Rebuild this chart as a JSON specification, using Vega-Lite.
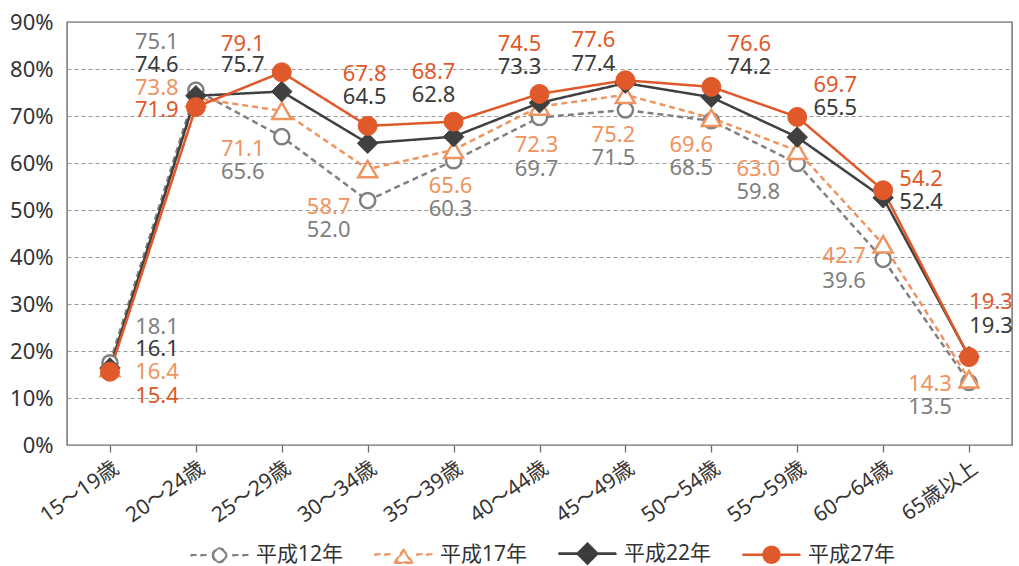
{
  "$schema": "https://vega.github.io/schema/vega-lite/v6.json",
  "autosize": {"type": "none"},
  "width": 945,
  "height": 423,
  "padding": {"left": 67, "top": 22, "right": 7, "bottom": 121},
  "background": "#ffffff",
  "config": {
    "font": "Noto Sans, Noto Sans CJK JP",
    "view": {"stroke": "#6b6b6b", "strokeWidth": 1.4},
    "axis": {"labelFont": "Noto Sans, Noto Sans CJK JP", "labelColor": "#333333"},
    "legend": {"labelFont": "Noto Sans, Noto Sans CJK JP"}
  },
  "data": {
    "values": [
      {"c": "15～19歳", "s": "平成12年", "v": 17.5, "t": "18.1", "ly": 25.2, "side": "e2"},
      {"c": "15～19歳", "s": "平成17年", "v": 16.4, "t": "16.4", "ly": 15.5, "side": "e2"},
      {"c": "15～19歳", "s": "平成22年", "v": 16.4, "t": "16.1", "ly": 20.5, "side": "e2"},
      {"c": "15～19歳", "s": "平成27年", "v": 15.6, "t": "15.4", "ly": 10.5, "side": "e2"},
      {"c": "20～24歳", "s": "平成12年", "v": 75.5, "t": "75.1", "ly": 85.7, "side": "w"},
      {"c": "20～24歳", "s": "平成17年", "v": 73.8, "t": "73.8", "ly": 76.0, "side": "w"},
      {"c": "20～24歳", "s": "平成22年", "v": 74.3, "t": "74.6", "ly": 80.8, "side": "w"},
      {"c": "20～24歳", "s": "平成27年", "v": 71.9, "t": "71.9", "ly": 71.2, "side": "w"},
      {"c": "25～29歳", "s": "平成12年", "v": 65.6, "t": "65.6", "ly": 58.1, "side": "w"},
      {"c": "25～29歳", "s": "平成17年", "v": 71.1, "t": "71.1", "ly": 63.0, "side": "w"},
      {"c": "25～29歳", "s": "平成22年", "v": 75.2, "t": "75.7", "ly": 80.8, "side": "w"},
      {"c": "25～29歳", "s": "平成27年", "v": 79.3, "t": "79.1", "ly": 85.4, "side": "w"},
      {"c": "30～34歳", "s": "平成12年", "v": 52.0, "t": "52.0", "ly": 45.7, "side": "w"},
      {"c": "30～34歳", "s": "平成17年", "v": 58.7, "t": "58.7", "ly": 50.6, "side": "w"},
      {"c": "30～34歳", "s": "平成22年", "v": 64.2, "t": "64.5", "ly": 74.0, "side": "n"},
      {"c": "30～34歳", "s": "平成27年", "v": 67.9, "t": "67.8", "ly": 79.0, "side": "n"},
      {"c": "35～39歳", "s": "平成12年", "v": 60.5, "t": "60.3", "ly": 50.3, "side": "n"},
      {"c": "35～39歳", "s": "平成17年", "v": 62.8, "t": "65.6", "ly": 55.2, "side": "n"},
      {"c": "35～39歳", "s": "平成22年", "v": 65.6, "t": "62.8", "ly": 74.4, "side": "nw"},
      {"c": "35～39歳", "s": "平成27年", "v": 68.8, "t": "68.7", "ly": 79.4, "side": "nw"},
      {"c": "40～44歳", "s": "平成12年", "v": 69.7, "t": "69.7", "ly": 58.8, "side": "n"},
      {"c": "40～44歳", "s": "平成17年", "v": 72.0, "t": "72.3", "ly": 63.8, "side": "n"},
      {"c": "40～44歳", "s": "平成22年", "v": 72.8, "t": "73.3", "ly": 80.4, "side": "nw"},
      {"c": "40～44歳", "s": "平成27年", "v": 74.7, "t": "74.5", "ly": 85.4, "side": "nw"},
      {"c": "45～49歳", "s": "平成12年", "v": 71.3, "t": "71.5", "ly": 61.1, "side": "n2"},
      {"c": "45～49歳", "s": "平成17年", "v": 74.5, "t": "75.2", "ly": 65.9, "side": "n2"},
      {"c": "45～49歳", "s": "平成22年", "v": 77.0, "t": "77.4", "ly": 81.1, "side": "nw2"},
      {"c": "45～49歳", "s": "平成27年", "v": 77.6, "t": "77.6", "ly": 86.2, "side": "nw2"},
      {"c": "50～54歳", "s": "平成12年", "v": 69.0, "t": "68.5", "ly": 59.0, "side": "nw"},
      {"c": "50～54歳", "s": "平成17年", "v": 69.6, "t": "69.6", "ly": 63.8, "side": "nw"},
      {"c": "50～54歳", "s": "平成22年", "v": 74.0, "t": "74.2", "ly": 80.4, "side": "e"},
      {"c": "50～54歳", "s": "平成27年", "v": 76.2, "t": "76.6", "ly": 85.4, "side": "e"},
      {"c": "55～59歳", "s": "平成12年", "v": 59.9, "t": "59.8", "ly": 53.8, "side": "w"},
      {"c": "55～59歳", "s": "平成17年", "v": 62.6, "t": "63.0", "ly": 58.8, "side": "w"},
      {"c": "55～59歳", "s": "平成22年", "v": 65.5, "t": "65.5", "ly": 71.6, "side": "e"},
      {"c": "55～59歳", "s": "平成27年", "v": 69.8, "t": "69.7", "ly": 76.5, "side": "e"},
      {"c": "60～64歳", "s": "平成12年", "v": 39.5, "t": "39.6", "ly": 35.0, "side": "w"},
      {"c": "60～64歳", "s": "平成17年", "v": 42.7, "t": "42.7", "ly": 40.3, "side": "w"},
      {"c": "60～64歳", "s": "平成22年", "v": 52.6, "t": "52.4", "ly": 51.7, "side": "e"},
      {"c": "60～64歳", "s": "平成27年", "v": 54.2, "t": "54.2", "ly": 56.7, "side": "e"},
      {"c": "65歳以上", "s": "平成12年", "v": 13.3, "t": "13.5", "ly": 8.0, "side": "w"},
      {"c": "65歳以上", "s": "平成17年", "v": 14.0, "t": "14.3", "ly": 13.0, "side": "w"},
      {"c": "65歳以上", "s": "平成22年", "v": 18.8, "t": "19.3", "ly": 25.4, "side": "e3"},
      {"c": "65歳以上", "s": "平成27年", "v": 18.7, "t": "19.3", "ly": 30.4, "side": "e3"}
    ]
  },
  "encoding": {
    "x": {
      "field": "c",
      "type": "ordinal",
      "sort": ["15～19歳", "20～24歳", "25～29歳", "30～34歳", "35～39歳", "40～44歳", "45～49歳", "50～54歳", "55～59歳", "60～64歳", "65歳以上"],
      "scale": {"type": "point", "padding": 0.5},
      "axis": {
        "title": null,
        "labelAngle": -35,
        "labelFontSize": 21,
        "labelColor": "#333333",
        "labelPadding": 5,
        "domain": false,
        "ticks": true,
        "tickSize": 7,
        "tickColor": "#6b6b6b",
        "tickWidth": 1.3,
        "grid": false
      }
    }
  },
  "layer": [
    {
      "mark": {"type": "line", "strokeWidth": 2.5},
      "encoding": {
        "y": {
          "field": "v",
          "type": "quantitative",
          "scale": {"domain": [0, 90], "nice": false, "zero": true},
          "axis": {
            "title": null,
            "values": [0, 10, 20, 30, 40, 50, 60, 70, 80, 90],
            "labelExpr": "datum.value + '%'",
            "grid": true,
            "gridDash": [4, 3],
            "gridColor": "#9a9a9a",
            "gridWidth": 1,
            "domain": false,
            "ticks": false,
            "labelPadding": 14,
            "labelFontSize": 22,
            "labelColor": "#333333"
          }
        },
        "color": {
          "field": "s",
          "type": "nominal",
          "scale": {"domain": ["平成12年", "平成17年", "平成22年", "平成27年"], "range": ["#808080", "#EE9460", "#404040", "#E0592A"]},
          "legend": {
            "orient": "none",
            "legendX": 123,
            "legendY": 502,
            "direction": "horizontal",
            "title": null,
            "symbolSize": 3249,
            "symbolStrokeWidth": 1.2,
            "labelFontSize": 21,
            "labelColor": "#333333",
            "labelOffset": 7,
            "columnPadding": 28,
            "encode": {
              "symbols": {
                "update": {
                  "shape": {"signal": "datum.value==='平成12年'?'M-1,-0.026H-0.82V0.026H-1ZM-0.65,-0.026H-0.47V0.026H-0.65ZM0.47,-0.026H0.65V0.026H0.47ZM0.82,-0.026H1V0.026H0.82ZM-0.256,0A0.256,0.256 0 1,1 0.256,0A0.256,0.256 0 1,1 -0.256,0ZM-0.204,0A0.204,0.204 0 1,0 0.204,0A0.204,0.204 0 1,0 -0.204,0Z':datum.value==='平成17年'?'M-1,-0.026H-0.82V0.026H-1ZM-0.65,-0.026H-0.47V0.026H-0.65ZM0.47,-0.026H0.65V0.026H0.47ZM0.82,-0.026H1V0.026H0.82ZM0,-0.2L0.36,0.31L-0.36,0.31ZM0,-0.108L-0.258,0.257L0.258,0.257Z':datum.value==='平成22年'?'M-1,-0.026H1V0.026H-1ZM0,-0.38L0.38,0L0,0.38L-0.38,0Z':'M-1,-0.026H1V0.026H-1ZM-0.3,0A0.3,0.3 0 1,1 0.3,0A0.3,0.3 0 1,1 -0.3,0Z'"},
                  "fill": {"signal": "datum.value==='平成12年'?'#808080':datum.value==='平成17年'?'#EE9460':datum.value==='平成22年'?'#404040':'#E0592A'"},
                  "stroke": {"signal": "datum.value==='平成12年'?'#808080':datum.value==='平成17年'?'#EE9460':datum.value==='平成22年'?'#404040':'#E0592A'"},
                  "strokeDash": {"value": []},
                  "strokeWidth": {"value": 1.2},
                  "size": {"value": 3249},
                  "opacity": {"value": 1}
                }
              }
            }
          }
        },
        "strokeDash": {
          "field": "s",
          "type": "nominal",
          "scale": {"domain": ["平成12年", "平成17年", "平成22年", "平成27年"], "range": [[6, 4], [6, 4], [1, 0], [1, 0]]},
          "legend": null
        }
      }
    },
    {
      "transform": [{"filter": "datum.s === '平成12年'"}],
      "mark": {"type": "point", "shape": "circle", "size": 230, "filled": true, "fill": "#ffffff", "stroke": "#808080", "strokeWidth": 2.5, "opacity": 1},
      "encoding": {"y": {"field": "v", "type": "quantitative"}}
    },
    {
      "transform": [{"filter": "datum.s === '平成17年'"}],
      "mark": {"type": "point", "shape": "triangle-up", "size": 360, "filled": true, "fill": "#ffffff", "stroke": "#EE9460", "strokeWidth": 2.5, "opacity": 1},
      "encoding": {"y": {"field": "v", "type": "quantitative"}}
    },
    {
      "transform": [{"filter": "datum.s === '平成22年'"}],
      "mark": {"type": "point", "shape": "diamond", "size": 420, "filled": true, "fill": "#404040", "stroke": "#404040", "strokeWidth": 1, "opacity": 1},
      "encoding": {"y": {"field": "v", "type": "quantitative"}}
    },
    {
      "transform": [{"filter": "datum.s === '平成27年'"}],
      "mark": {"type": "point", "shape": "circle", "size": 360, "filled": true, "fill": "#E0592A", "stroke": "#E0592A", "strokeWidth": 1, "opacity": 1},
      "encoding": {"y": {"field": "v", "type": "quantitative"}}
    },
    {
      "mark": {
        "type": "text",
        "fontSize": 22,
        "align": "center",
        "baseline": "middle",
        "dx": {"expr": "datum.side==='w'?-39:datum.side==='e'?38:datum.side==='e2'?47:datum.side==='e3'?22:datum.side==='nw'?-20:datum.side==='nw2'?-32:datum.side==='n2'?-12:-3"}
      },
      "encoding": {
        "y": {
          "field": "ly",
          "type": "quantitative",
          "axis": {
            "title": null,
            "values": [0, 10, 20, 30, 40, 50, 60, 70, 80, 90],
            "labelExpr": "datum.value + '%'",
            "grid": true,
            "gridDash": [4, 3],
            "gridColor": "#9a9a9a",
            "gridWidth": 1,
            "domain": false,
            "ticks": false,
            "labelPadding": 14,
            "labelFontSize": 22,
            "labelColor": "#333333"
          }
        },
        "text": {"field": "t"},
        "fill": {
          "field": "s",
          "type": "nominal",
          "scale": {"domain": ["平成12年", "平成17年", "平成22年", "平成27年"], "range": ["#7f7f7f", "#EE9460", "#3a3a3a", "#E0592A"]},
          "legend": null
        }
      }
    }
  ]
}
